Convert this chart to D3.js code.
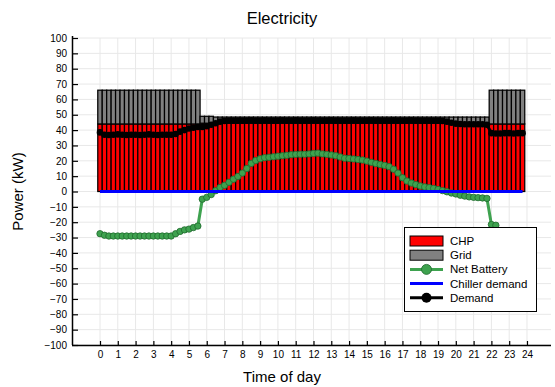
<!DOCTYPE html>
<html><head><meta charset="utf-8">
<script src="https://cdn.jsdelivr.net/npm/d3@7"></script>
<style>
body{margin:0;background:#fff;}
svg{display:block;font-family:"Liberation Sans",Arial,sans-serif;}
</style>
</head><body>
<svg id="c" width="555" height="387"></svg>
<script>
// 15-minute time grid (hours)
const times = d3.range(96).map(i => i * 0.25);

const chp = [
  44,44,44,44,44,44,44,44,
  44,44,44,44,44,44,44,44,
  44,44,44,44,44,44,44,44.5,
  44.5,44.5,44.5,44.5,44.5,44.5,44.5,44.5,
  44.5,44.5,44.5,44.5,44.5,44.5,44.5,44.5,
  44.5,44.5,44.5,44.5,44.5,44.5,44.5,44.5,
  44.5,44.5,44.5,44.5,44.5,44.5,44.5,44.5,
  44.5,44.5,44.5,44.5,44.5,44.5,44.5,44.5,
  44.5,44.5,44.5,44.5,44.5,44.5,44.5,44.5,
  44.5,44.5,44.5,44.5,44.5,44.5,44.5,44.5,
  44.5,44.5,44.5,44.5,44.5,44.5,44.5,44.5,
  44,44,44,44,44,44,44,44
];
const grid = [
  22,22,22,22,22,22,22,22,
  22,22,22,22,22,22,22,22,
  22,22,22,22,22,22,22,4.5,
  4.5,4.5,4,4,4,4,4,4,
  4,4,4,4,4,4,4,4,
  4,4,4,4,4,4,4,4,
  4,4,4,4,4,4,4,4,
  4,4,4,4,4,4,4,4,
  4,4,4,4,4,4,4,4,
  4,4,4,4,4,4,4,4,
  4,4,4,4,4,4,4,4,
  22,22,22,22,22,22,22,22
];
const netBattery = [
  -27.5,-28.5,-29,-29,-29,-29,-29,-29,
  -29,-29,-29,-29,-29,-29,-29,-29,
  -29,-27.5,-26,-25,-24.5,-23.5,-22.5,-5,
  -3.8,-2,0.5,2.6,4,6,8,9.8,
  12,15,18.3,20.2,21.3,22,22.3,22.6,
  23,23.3,23.6,24,24.2,24.3,24.3,24.5,
  24.8,25,24.5,24.2,23.8,23.3,22.5,21.7,
  21.5,21.2,20.8,20.5,19.8,19,18.2,17.6,
  17,16.2,14.5,12,9,6.8,5.5,4.5,
  3.6,3,2.5,2,1.3,0.6,-0.2,-1,
  -1.6,-2.4,-3,-3.5,-3.8,-4,-4.2,-4.5,
  -21.5,-22,-27,-28.5,-28.5,-28.5,-28.5,-28.5
];
const chillerDemand = [
  0,0,0,0,0,0,0,0, 0,0,0,0,0,0,0,0, 0,0,0,0,0,0,0,0,
  0,0,0,0,0,0,0,0, 0,0,0,0,0,0,0,0, 0,0,0,0,0,0,0,0,
  0,0,0,0,0,0,0,0, 0,0,0,0,0,0,0,0, 0,0,0,0,0,0,0,0,
  0,0,0,0,0,0,0,0, 0,0,0,0,0,0,0,0, 0,0,0,0,0,0,0,0
];
const demand = [
  38.5,37,36.8,37,37.2,37,36.8,37,
  37,36.8,37,37.2,37,36.8,37,37,
  37,37.5,39,40,41,41.5,42,42,
  42.5,43.5,44.5,45.5,46,46.3,46.3,46.3,
  46.2,46.3,46.4,46.3,46.3,46.4,46.3,46.3,
  46.3,46.4,46.3,46.3,46.4,46.3,46.3,46.3,
  46.4,46.3,46.3,46.3,46.4,46.3,46.3,46.3,
  46.3,46.4,46.3,46.3,46.3,46.4,46.3,46.3,
  46.3,46.3,46.4,46.3,46.3,46.3,46.4,46.3,
  46.3,46.3,46.3,46.3,46.2,46,45.5,44.8,
  44.2,44,43.8,43.8,43.8,43.8,43.8,43.5,
  38,37.8,37.8,38,38,37.8,38,38
];
const xTicks = d3.range(0, 25);
const yTicks = d3.range(-100, 101, 10);
const legendLabels = ["CHP", "Grid", "Net Battery", "Chiller demand", "Demand"];

const svg = d3.select("#c");
const L = 72, R = 551, T = 38, B = 345;
const x = d3.scaleLinear().domain([-1.574, 25.35]).range([L, R]);
const y = d3.scaleLinear().domain([-100, 100]).range([B, T]);
const bw = x(0.25) - x(0);

// grid lines
const g = svg.append("g");
g.selectAll(".vg").data(xTicks).join("line")
  .attr("x1", d => x(d)).attr("x2", d => x(d)).attr("y1", T).attr("y2", B)
  .attr("stroke", "#e8e8e8").attr("stroke-width", 1);
g.selectAll(".hg").data(yTicks).join("line")
  .attr("x1", L).attr("x2", R).attr("y1", d => y(d)).attr("y2", d => y(d))
  .attr("stroke", "#e8e8e8").attr("stroke-width", 1);

// bars
const rows = times.map((t, i) => ({t, chp: chp[i], grid: grid[i], bat: netBattery[i], ch: chillerDemand[i], dem: demand[i]}));
svg.append("g").selectAll("rect").data(rows).join("rect")
  .attr("x", d => x(d.t) - bw / 2).attr("width", bw)
  .attr("y", d => y(d.chp)).attr("height", d => y(0) - y(d.chp))
  .attr("fill", "#ff0000").attr("stroke", "#000").attr("stroke-width", 1.25);
svg.append("g").selectAll("rect").data(rows).join("rect")
  .attr("x", d => x(d.t) - bw / 2).attr("width", bw)
  .attr("y", d => y(d.chp + d.grid)).attr("height", d => y(d.chp) - y(d.chp + d.grid))
  .attr("fill", "#808080").attr("stroke", "#000").attr("stroke-width", 1.25);

// net battery
const line = key => d3.line().x(d => x(d.t)).y(d => y(d[key]));
const green = "#3ea24f", greenDark = "#1f6a2d";
svg.append("path").datum(rows).attr("d", line("bat"))
  .attr("fill", "none").attr("stroke", green).attr("stroke-width", 3);
svg.append("g").selectAll("circle").data(rows).join("circle")
  .attr("cx", d => x(d.t)).attr("cy", d => y(d.bat)).attr("r", 3.2)
  .attr("fill", green).attr("stroke", greenDark).attr("stroke-width", 0.8);

// chiller demand
svg.append("path").datum(rows).attr("d", line("ch"))
  .attr("fill", "none").attr("stroke", "#0000ff").attr("stroke-width", 3.2);

// demand
svg.append("path").datum(rows).attr("d", line("dem"))
  .attr("fill", "none").attr("stroke", "#000").attr("stroke-width", 3);
svg.append("g").selectAll("circle").data(rows).join("circle")
  .attr("cx", d => x(d.t)).attr("cy", d => y(d.dem)).attr("r", 3.3)
  .attr("fill", "#000");

// axes
const ax = svg.append("g").attr("transform", `translate(0,${B})`)
  .call(d3.axisBottom(x).tickValues(xTicks).tickSizeInner(-4).tickSizeOuter(0).tickPadding(6).tickFormat(d3.format("d")));
const ay = svg.append("g").attr("transform", `translate(${L},0)`)
  .call(d3.axisLeft(y).tickValues(yTicks).tickSizeInner(-6).tickSizeOuter(0).tickPadding(5).tickFormat(d3.format("d")));
[ax, ay].forEach(a => {
  a.select(".domain").attr("stroke", "#000").attr("stroke-width", 1.5);
  a.selectAll(".tick line").attr("stroke", "#000").attr("stroke-width", 1.2);
  a.selectAll(".tick text").attr("fill", "#000").style("font-size", "10px")
    .style("font-family", '"Liberation Sans",Arial,sans-serif');
});
ax.select(".domain").attr("d", `M${L},0.5H${R}`);
ay.select(".domain").attr("d", `M0.5,${B}V${T - 2}`);

// titles
const cx = 282;
svg.append("text").attr("x", cx).attr("y", 24).attr("text-anchor", "middle")
  .style("font-size", "16.5px").text("Electricity");
svg.append("text").attr("x", cx).attr("y", 382).attr("text-anchor", "middle")
  .style("font-size", "15px").text("Time of day");
svg.append("text").attr("transform", `translate(23,${(T + B) / 2}) rotate(-90)`).attr("text-anchor", "middle")
  .style("font-size", "15px").text("Power (kW)");

// legend
const lg = svg.append("g");
lg.append("rect").attr("x", 404.5).attr("y", 227.5).attr("width", 132).attr("height", 84)
  .attr("fill", "#fff").attr("stroke", "#000").attr("stroke-width", 1);
const ly = i => 241 + i * 14.2;
const sx0 = 410, sx1 = 443, tx = 450;
lg.append("rect").attr("x", sx0).attr("y", ly(0) - 5).attr("width", sx1 - sx0).attr("height", 10)
  .attr("fill", "#ff0000").attr("stroke", "#000").attr("stroke-width", 1);
lg.append("rect").attr("x", sx0).attr("y", ly(1) - 5).attr("width", sx1 - sx0).attr("height", 10)
  .attr("fill", "#808080").attr("stroke", "#000").attr("stroke-width", 1);
lg.append("line").attr("x1", sx0).attr("x2", sx1).attr("y1", ly(2)).attr("y2", ly(2))
  .attr("stroke", green).attr("stroke-width", 3);
lg.append("circle").attr("cx", (sx0 + sx1) / 2).attr("cy", ly(2)).attr("r", 5)
  .attr("fill", green).attr("stroke", greenDark).attr("stroke-width", 0.8);
lg.append("line").attr("x1", sx0).attr("x2", sx1).attr("y1", ly(3)).attr("y2", ly(3))
  .attr("stroke", "#0000ff").attr("stroke-width", 3);
lg.append("line").attr("x1", sx0).attr("x2", sx1).attr("y1", ly(4)).attr("y2", ly(4))
  .attr("stroke", "#000").attr("stroke-width", 3);
lg.append("circle").attr("cx", (sx0 + sx1) / 2).attr("cy", ly(4)).attr("r", 5).attr("fill", "#000");
lg.selectAll(".lt").data(legendLabels).join("text")
  .attr("x", tx).attr("y", (d, i) => ly(i)).attr("dy", "0.35em")
  .style("font-size", "11.5px").text(d => d);
</script>
</body></html>
